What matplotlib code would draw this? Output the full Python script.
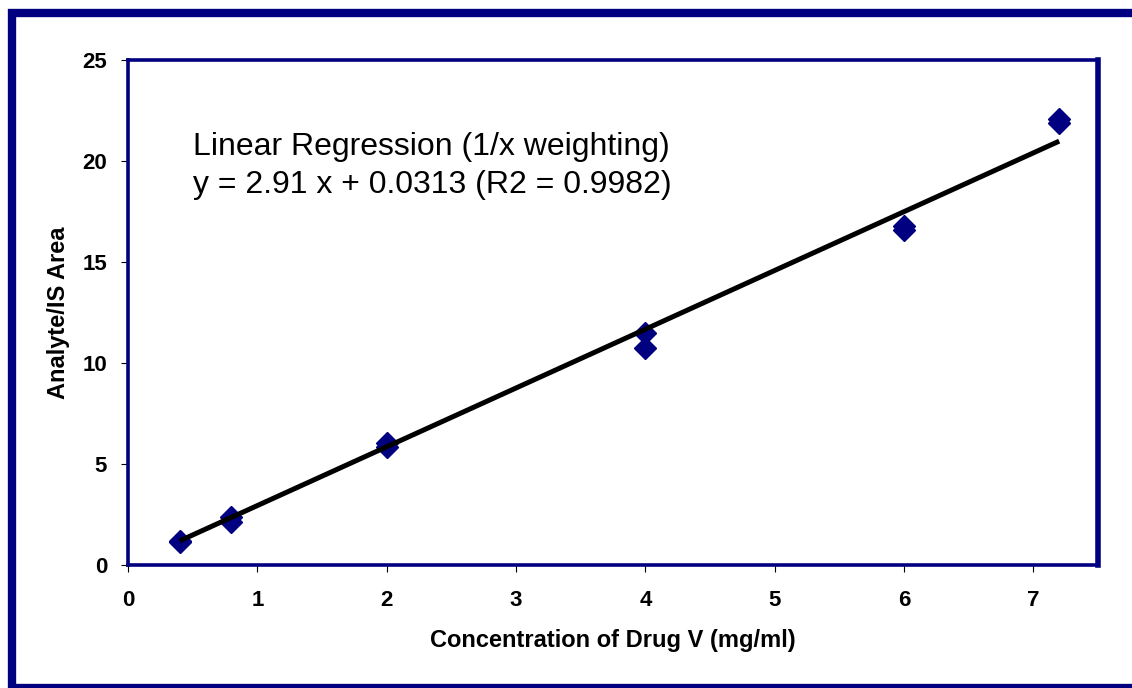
import matplotlib.pyplot as plt
from matplotlib.patches import Rectangle
import numpy as np

plt.rcParams['font.family'] = ['Liberation Sans', 'DejaVu Sans']

# calibration standards (duplicates)
conc = [0.4, 0.4, 0.8, 0.8, 2, 2, 4, 4, 6, 6, 7.2, 7.2]
ratio = [1.15, 1.2, 2.4, 2.15, 6.05, 5.85, 11.5, 10.75, 16.8, 16.6, 22.1, 21.9]

slope = 2.91
intercept = 0.0313
line_x = [0.4, 7.2]

navy = '#000080'

fig = plt.figure(figsize=(11.32, 6.88), dpi=100)
# outer chart border (right and bottom edges partly cut off)
fig.patches.append(Rectangle((12 / 1132, 0.5 / 688), 1.2, 1 - 13 / 688,
                             transform=fig.transFigure, fill=False,
                             edgecolor=navy, linewidth=6))

ax = fig.add_axes([128 / 1132, 1 - 565 / 688, 970 / 1132, 505 / 688])

ax.plot(conc, ratio, linestyle='none', marker='D', markersize=11,
        color=navy, zorder=2)
lx = np.array(line_x)
ax.plot(lx, slope * lx + intercept, color='black', linewidth=3.6, zorder=3,
        solid_capstyle='butt')

ax.text(0.505, 18.4, 'Linear Regression (1/x weighting)\ny = 2.91 x + 0.0313 (R2 = 0.9982)',
        fontsize=23, va='baseline', ha='left', linespacing=1.38)

ax.set_xlim(0, 7.5)
ax.set_ylim(0, 25)
ax.set_xticks(range(0, 8))
ax.set_yticks(range(0, 26, 5))

for s in ax.spines.values():
    s.set_color(navy)
    s.set_linewidth(2.6)
ax.spines['right'].set_linewidth(4)

ax.tick_params(direction='out', length=5, width=0.8, color='black',
               labelsize=16)
ax.tick_params(axis='x', pad=13)
ax.tick_params(axis='y', pad=10)
for lbl in ax.get_xticklabels() + ax.get_yticklabels():
    lbl.set_fontweight('bold')

ax.set_xlabel('Concentration of Drug V (mg/ml)', fontsize=17, fontweight='bold',
              labelpad=13)
ax.set_ylabel('Analyte/IS Area', fontsize=17, fontweight='bold', labelpad=9)

fig.savefig('out.png', dpi=100)
